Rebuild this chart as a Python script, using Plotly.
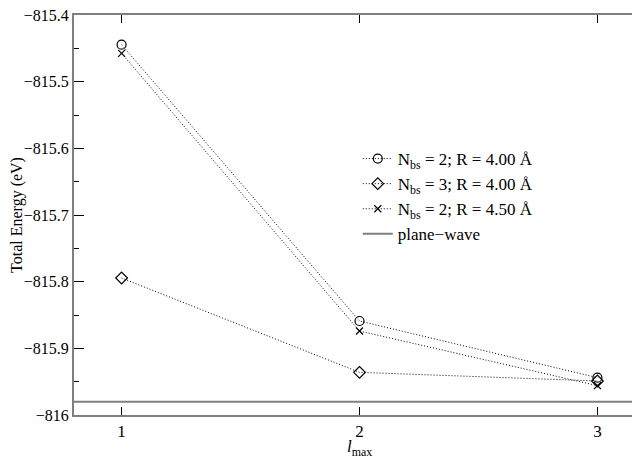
import plotly.graph_objects as go

lmax = [1, 2, 3]
e_nbs2_r400 = [-815.4445, -815.859, -815.944]
e_nbs3_r400 = [-815.7945, -815.936, -815.949]
e_nbs2_r450 = [-815.4575, -815.874, -815.956]
e_planewave = -815.98

y_ticks = [-816.0, -815.9, -815.8, -815.7, -815.6, -815.5, -815.4]
y_ticklabels = ["\u2212816", "\u2212815.9", "\u2212815.8", "\u2212815.7", "\u2212815.6", "\u2212815.5", "\u2212815.4"]

names = [
    "N<sub>bs</sub> = 2; R = 4.00 Å",
    "N<sub>bs</sub> = 3; R = 4.00 Å",
    "N<sub>bs</sub> = 2; R = 4.50 Å",
    "plane\u2212wave",
]

FONT = "Liberation Serif, Times New Roman, serif"
fig = go.Figure()
symbols = ["circle-open", "diamond-open", "x-thin-open"]
series = [e_nbs2_r400, e_nbs3_r400, e_nbs2_r450]
for ys, sym, nm in zip(series, symbols, names[:3]):
    fig.add_trace(go.Scatter(
        x=lmax, y=ys, mode="lines+markers", name=nm,
        line=dict(color="black", width=1, dash="1px,2px"),
        marker=dict(symbol=sym, size=9 if sym != "x-thin-open" else 7,
                    color="black", line=dict(color="black", width=1.2)),
    ))

fig.add_trace(go.Scatter(
    x=[0.8, 3.2], y=[e_planewave, e_planewave], mode="lines", name=names[3],
    line=dict(color="#7f7f7f", width=2),
))

axis_common = dict(
    showline=True, linecolor="#7f7f7f", linewidth=2, mirror="allticks",
    ticks="inside", tickcolor="black", showgrid=False, zeroline=False,
    ticklabeloverflow="allow",
)
fig.update_xaxes(
    range=[0.8, 3.2], tickvals=[1, 2, 3], ticklen=8,
    tickfont=dict(family=FONT, size=17, color="black"),
    **axis_common,
)
fig.update_yaxes(
    range=[-816.0000001, -815.3999999], tickvals=y_ticks, ticktext=y_ticklabels, ticklen=10,
    tickfont=dict(family=FONT, size=16, color="black"),
    minor=dict(dtick=0.05, tick0=-816, ticks="inside", ticklen=5, tickcolor="black", showgrid=False),
    title=dict(text="Total Energy (eV)", font=dict(family=FONT, size=16, color="black"), standoff=4),
    **axis_common,
)
fig.add_annotation(
    text="<i>l</i><sub>max</sub>", xref="paper", yref="paper", x=0.5, y=0,
    xanchor="center", yanchor="top", yshift=-20, showarrow=False,
    font=dict(family=FONT, size=17, color="black"),
)
fig.update_layout(
    width=640, height=463,
    margin=dict(l=66, r=3, t=7, b=56, autoexpand=False),
    plot_bgcolor="white", paper_bgcolor="white",
    font=dict(family=FONT, size=16, color="black"),
    legend=dict(x=0.497, y=0.685, xanchor="left", yanchor="top",
                bgcolor="rgba(0,0,0,0)", font=dict(family=FONT, size=17),
                itemwidth=30, tracegroupgap=0),
    showlegend=True,
)
fig.write_html("out.html")
